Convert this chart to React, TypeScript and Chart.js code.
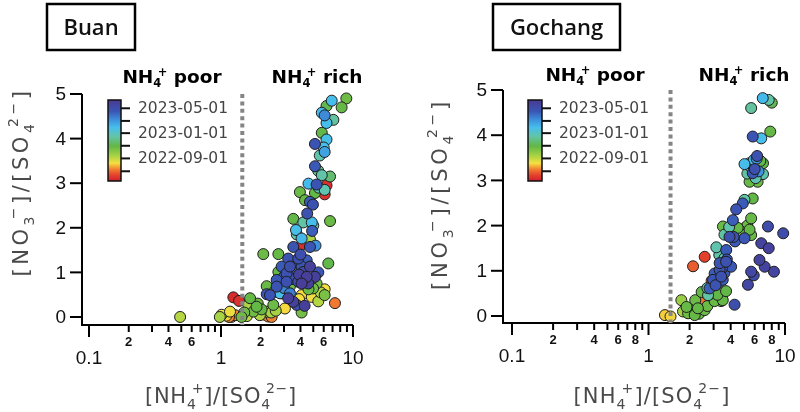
import React, { useEffect, useRef } from 'react';
import { Chart, registerables } from 'chart.js';

Chart.register(...registerables);

// ---------------- data ----------------
const colorbarRange = ['2022-05-15', '2023-06-10'];
const colorbarTickDates = ['2022-07-01', '2022-09-01', '2022-11-01', '2023-01-01', '2023-03-01', '2023-05-01'];
const colorbarLabelDates = ['2022-09-01', '2023-01-01', '2023-05-01'];
const yTickValues = [0, 1, 2, 3, 4, 5];
const xMajorTicks = [0.1, 1, 10];
const xMajorLabels = ['0.1', '1', '10'];
const xMinorTicks = [0.2, 0.3, 0.4, 0.5, 0.6, 0.7, 0.8, 0.9, 2, 3, 4, 5, 6, 7, 8, 9];
const buanMinorLabels = [0.2, 0.4, 0.6, 2, 4, 6];
const gochangMinorLabels = [0.2, 0.4, 0.6, 0.8, 2, 4, 6, 8];
const nh4Threshold = 1.45;

// Buan: [NH4+]/[SO4 2-] , [NO3-]/[SO4 2-] , sampling date
const buanNH4 = [
  8.9, 6.9, 8.2, 6.3, 5.8, 6.1, 7.1, 5.8, 6.3, 5.15, 6.0, 6.1, 5.6, 5.15, 5.45, 6.7, 5.8, 4.6, 5.3, 6.3,
  6.1, 6.1, 3.96, 5.15, 4.33, 4.72, 4.97, 4.5, 6.7, 3.53, 4.2, 4.87, 3.7, 4.9, 3.75, 4.08, 4.72, 4.08, 4.72, 3.53,
  2.09, 2.72, 3.23, 3.85, 4.46, 6.5, 2.88, 3.33, 4.08, 4.72, 2.72, 3.14, 3.63, 4.2, 5.46, 4.46, 5.15, 2.64, 3.14, 3.85,
  4.08, 4.58, 2.22, 2.64, 3.33, 5.3, 6.1, 4.98, 2.22, 2.88, 3.33, 4.08, 4.87, 6.1, 5.46, 7.3, 3.23, 3.53, 3.75, 3.05,
  4.08, 2.49, 2.03, 1.24, 1.37, 1.66, 1.86, 1.61, 1.76, 2.22, 2.28, 1.97, 1.01, 0.98, 1.1, 1.2, 1.28, 1.43, 1.17, 1.57,
  0.49, 2.35, 2.8, 2.42, 1.15, 2.4, 3.0, 3.45, 3.9, 4.3, 3.6, 4.0, 3.0, 2.5, 4.6, 5.7, 4.3, 3.9, 2.6, 1.9,
  1.5, 2.15, 5.2, 5.0, 5.5, 6.3,
];
const buanNO3 = [
  4.9, 4.85, 4.7, 4.73, 4.58, 4.52, 4.42, 4.13, 3.98, 3.88, 3.8, 3.7, 3.62, 3.38, 3.28, 3.15, 3.18, 2.99, 2.97, 2.95,
  2.85, 2.75, 2.8, 2.78, 2.62, 2.58, 2.52, 2.32, 2.15, 2.2, 2.12, 2.12, 1.95, 1.93, 1.85, 1.76, 1.74, 1.62, 1.57, 1.57,
  1.41, 1.41, 1.31, 1.31, 1.27, 1.2, 1.13, 1.13, 1.13, 1.13, 1.01, 0.98, 0.99, 1.01, 1.0, 0.9, 0.9, 0.83, 0.79, 0.79,
  0.75, 0.75, 0.69, 0.68, 0.69, 0.75, 0.62, 0.64, 0.51, 0.53, 0.53, 0.49, 0.45, 0.49, 0.35, 0.31, 0.42, 0.34, 0.27, 0.19,
  0.1, 0.27, 0.17, 0.44, 0.36, 0.42, 0.23, 0.27, 0.12, 0.12, 0.01, 0.04, 0.05, 0.0, 0.03, 0.0, 0.04, 0.0, 0.12, 0.02,
  0.0, 0.49, 0.53, 0.0, 0.0, 0.1, 0.9, 0.85, 0.95, 0.8, 1.2, 1.4, 0.65, 0.55, 0.62, 0.55, 0.25, 0.4, 0.14, 0.3,
  0.1, 0.05, 1.6, 2.05, 2.9, 4.35,
];
const buanDates = [
  '2022-10-22', '2023-01-30', '2022-10-28', '2022-11-05', '2023-02-02', '2023-03-10', '2022-12-14', '2022-10-30', '2023-01-25', '2023-04-18',
  '2023-01-27', '2023-02-20', '2022-12-20', '2023-04-14', '2022-12-12', '2022-11-20', '2022-12-18', '2023-01-31', '2023-04-20', '2022-05-28',
  '2022-12-22', '2022-05-30', '2022-10-24', '2022-10-29', '2022-10-27', '2023-04-12', '2023-04-22', '2023-04-25', '2022-10-25', '2022-10-31',
  '2022-12-15', '2023-01-29', '2023-01-26', '2023-04-10', '2022-12-19', '2023-02-03', '2022-09-12', '2022-05-29', '2023-04-15', '2023-04-19',
  '2022-10-23', '2022-10-27', '2023-04-21', '2023-04-26', '2023-04-11', '2022-11-01', '2023-04-13', '2023-04-28', '2023-04-17', '2023-05-27',
  '2022-10-30', '2023-04-23', '2023-04-09', '2023-05-05', '2023-04-16', '2023-05-30', '2023-05-26', '2023-04-14', '2023-04-24', '2023-05-02',
  '2023-05-31', '2023-05-28', '2022-10-26', '2023-04-18', '2022-10-21', '2022-10-19', '2022-08-10', '2022-10-20', '2023-04-15', '2022-12-17',
  '2023-03-20', '2022-08-08', '2022-08-12', '2022-10-15', '2022-09-08', '2022-07-08', '2023-05-29', '2023-05-25', '2023-04-27', '2022-08-07',
  '2022-10-18', '2022-10-24', '2022-10-28', '2022-05-26', '2022-05-31', '2022-10-27', '2022-10-29', '2022-09-10', '2022-10-21', '2022-09-06',
  '2022-07-10', '2022-09-11', '2022-08-11', '2022-09-14', '2022-08-06', '2022-07-06', '2022-07-12', '2022-10-22', '2022-08-14', '2022-09-05',
  '2022-09-07', '2023-04-20', '2023-01-24', '2022-07-11', '2022-07-14', '2022-09-13', '2023-04-12', '2023-04-19', '2023-05-24', '2023-04-22',
  '2023-04-08', '2023-04-27', '2023-03-12', '2022-10-26', '2022-10-23', '2022-09-09', '2023-05-28', '2022-08-09', '2022-09-16', '2022-10-25',
  '2022-10-21', '2022-07-07', '2023-03-04', '2022-12-16', '2022-12-21', '2023-01-28',
];

// Gochang
const gochangNH4 = [
  6.87, 7.6, 8.0, 5.65, 5.8, 6.7, 7.8, 6.25, 5.05, 5.5, 6.9, 6.6, 5.8, 6.9, 5.3, 6.0, 5.5, 6.3, 6.1, 5.05,
  5.8, 4.9, 4.39, 4.15, 5.65, 3.51, 3.9, 5.5, 5.1, 4.7, 5.05, 3.92, 3.6, 7.5, 9.7, 6.7, 7.6, 3.14, 3.71, 2.58,
  2.12, 3.6, 3.32, 4.03, 6.5, 7.1, 8.3, 5.65, 5.9, 5.35, 4.27, 3.32, 3.05, 2.97, 3.41, 3.22, 2.8, 2.58, 2.73, 3.2,
  3.4, 3.05, 2.44, 1.74, 2.06, 2.3, 2.58, 1.95, 1.79, 2.18, 1.32, 1.45, 3.5, 2.45, 4.77, 5.65, 6.2, 2.9, 3.7, 4.2,
  3.45, 3.6, 3.25, 3.1, 3.5, 3.75, 3.3, 2.7, 2.9, 3.7, 2.2, 2.35, 1.9, 2.7, 4.5, 5.3, 4.3, 5.6, 6.4, 5.9,
];
const gochangNO3 = [
  4.82, 4.78, 4.72, 4.6, 3.97, 3.93, 4.08, 3.54, 3.36, 3.38, 3.38, 3.43, 3.16, 3.14, 3.15, 3.25, 2.97, 2.97, 3.05, 2.57,
  2.6, 2.49, 2.36, 2.12, 2.16, 1.98, 1.97, 1.91, 1.95, 1.88, 1.72, 1.75, 1.8, 1.98, 1.83, 1.61, 1.5, 1.52, 1.46, 1.31,
  1.1, 1.28, 1.17, 1.09, 1.24, 1.09, 0.98, 0.98, 0.9, 0.69, 0.25, 1.02, 0.94, 0.8, 0.87, 0.72, 0.61, 0.54, 0.46, 0.47,
  0.33, 0.33, 0.32, 0.35, 0.13, 0.17, 0.13, 0.06, 0.1, 0.02, 0.02, -0.01, 0.35, 0.53, 1.81, 1.79, 3.48, 0.78, 1.2, 1.75,
  1.05, 0.95, 0.9, 0.68, 0.8, 1.25, 1.35, 0.62, 0.5, 0.55, 0.35, 0.05, 0.2, 0.22, 1.95, 2.0, 1.65, 3.3, 3.2, 3.45,
];
const gochangDates = [
  '2023-02-01', '2022-12-18', '2022-11-05', '2022-12-12', '2023-04-18', '2023-01-27', '2022-10-28', '2023-04-22', '2023-01-30', '2023-01-25',
  '2022-10-30', '2022-11-02', '2023-04-14', '2022-12-20', '2022-12-15', '2023-04-26', '2022-10-26', '2022-10-22', '2022-12-22', '2022-12-17',
  '2022-10-31', '2023-04-12', '2023-04-20', '2023-04-10', '2022-10-27', '2022-10-24', '2022-12-19', '2022-10-29', '2022-10-20', '2022-10-25',
  '2023-04-16', '2023-04-24', '2022-12-14', '2023-05-05', '2023-05-02', '2023-05-22', '2023-05-26', '2022-12-21', '2023-04-13', '2022-06-12',
  '2022-06-25', '2022-12-23', '2023-04-21', '2023-04-15', '2023-05-24', '2023-05-20', '2023-05-18', '2023-05-12', '2023-05-08', '2023-05-15',
  '2023-05-01', '2023-04-19', '2023-04-11', '2023-04-17', '2023-04-23', '2023-03-10', '2023-04-09', '2022-10-23', '2022-12-16', '2022-10-30',
  '2022-10-21', '2022-10-26', '2022-07-05', '2022-09-25', '2022-10-19', '2022-10-28', '2022-10-24', '2022-10-22', '2022-09-15', '2022-10-27',
  '2022-08-03', '2022-08-06', '2022-10-29', '2022-10-31', '2022-10-28', '2022-10-25', '2023-03-05', '2022-07-01', '2023-04-25', '2023-04-20',
  '2023-04-18', '2023-04-14', '2023-03-08', '2023-04-21', '2023-04-11', '2023-04-16', '2022-12-18', '2022-12-20', '2022-10-27', '2022-10-30',
  '2022-10-24', '2022-10-21', '2022-10-26', '2022-10-25', '2022-10-29', '2022-10-23', '2023-04-13', '2022-12-15', '2023-03-02', '2023-01-29',
];

// ---------------- styles ----------------
const colormapStops: [number, string][] = [
  [0.0, '#cf1f2e'], [0.07, '#e4402c'], [0.14, '#f07a30'], [0.22, '#f6df40'],
  [0.31, '#a8d444'], [0.43, '#62b746'], [0.55, '#62c4a6'], [0.66, '#46bfec'],
  [0.76, '#3d8ddb'], [0.86, '#3a55b4'], [1.0, '#4a3a93'],
];
const SANS = '"Liberation Sans", Arial, sans-serif';
const DEJAVU = '"DejaVu Sans", sans-serif';

const hexRgb = (h: string) => [1, 3, 5].map((i) => parseInt(h.slice(i, i + 2), 16));
const t0 = Date.parse(colorbarRange[0]);
const t1 = Date.parse(colorbarRange[1]);
const dateFrac = (d: string) => Math.min(1, Math.max(0, (Date.parse(d) - t0) / (t1 - t0)));
function colorAt(t: number) {
  for (let i = 1; i < colormapStops.length; i++) {
    const [ta, ca] = colormapStops[i - 1];
    const [tb, cb] = colormapStops[i];
    if (t <= tb) {
      const f = (t - ta) / (tb - ta);
      const a = hexRgb(ca), b = hexRgb(cb);
      const c = a.map((v, k) => Math.round(v + (b[k] - v) * f));
      return `rgb(${c[0]},${c[1]},${c[2]})`;
    }
  }
  return colormapStops[colormapStops.length - 1][1];
}

type Seg = [string, 'n' | 'b' | 'p'];
type RichFont = { family: string; weight: string; size: number; small: number; subDy: number; supDy: number; stack: number };

function layoutRich(ctx: CanvasRenderingContext2D, segs: Seg[], f: RichFont, ls: number) {
  let x = 0;
  const items: { t: string; sx: number; dy: number; font: string }[] = [];
  let prevSub: { x: number; w: number } | null = null;
  for (const [t, k] of segs) {
    const fs = k === 'n' ? f.size : f.small;
    const font = `${f.weight} ${fs}px ${f.family}`;
    ctx.font = font;
    (ctx as any).letterSpacing = `${ls}px`;
    const w = ctx.measureText(t).width;
    let sx: number;
    if (k === 'p' && prevSub) {
      sx = prevSub.x + prevSub.w * f.stack;
      x = Math.max(prevSub.x + prevSub.w, sx + w);
    } else {
      sx = x;
      x += w;
    }
    items.push({ t, sx, dy: k === 'b' ? f.subDy : k === 'p' ? f.supDy : 0, font });
    prevSub = k === 'b' ? { x: sx, w } : null;
  }
  return { items, width: x, ls };
}

function drawRich(ctx: CanvasRenderingContext2D, segs: Seg[], f: RichFont, cx: number, baseY: number, targetW?: number) {
  let ls = 0;
  if (targetW) {
    const w0 = layoutRich(ctx, segs, f, 0).width;
    const w1 = layoutRich(ctx, segs, f, 1).width;
    ls = Math.max(0, (targetW - w0) / Math.max(0.001, w1 - w0));
  }
  const lay = layoutRich(ctx, segs, f, ls);
  const x0 = cx - lay.width / 2;
  ctx.textAlign = 'left';
  ctx.textBaseline = 'alphabetic';
  for (const it of lay.items) {
    ctx.font = it.font;
    (ctx as any).letterSpacing = `${ls}px`;
    ctx.fillText(it.t, x0 + it.sx, baseY + it.dy);
  }
  (ctx as any).letterSpacing = '0px';
}

const xTitleSegs: Seg[] = [['[NH', 'n'], ['4', 'b'], ['+', 'p'], [']/[SO', 'n'], ['4', 'b'], ['2\u2212', 'p'], [']', 'n']];
const yTitleSegs: Seg[] = [['[NO', 'n'], ['3', 'b'], ['\u2212', 'p'], [']/[SO', 'n'], ['4', 'b'], ['2\u2212', 'p'], [']', 'n']];
const poorSegs: Seg[] = [['NH', 'n'], ['4', 'b'], ['+', 'p'], [' poor', 'n']];
const richSegs: Seg[] = [['NH', 'n'], ['4', 'b'], ['+', 'p'], [' rich', 'n']];
const titleFont: RichFont = { family: DEJAVU, weight: '400', size: 21, small: 14, subDy: 6, supDy: -10, stack: 0.5 };
const regimeFont: RichFont = { family: DEJAVU, weight: 'bold', size: 18.5, small: 11.5, subDy: 4, supDy: -7, stack: 0.55 };

type PanelSpec = {
  site: string;
  nh4: number[];
  no3: number[];
  dates: string[];
  minorLabels: number[];
  padding: { left: number; right: number; top: number; bottom: number };
  xMin: number; xMax: number; yMin: number; yMax: number;
  box: { x: number; y: number; w: number; h: number; textY: number };
  regime: { y: number; poorX: number; richX: number };
  colorbar: { x: number; y: number; w: number; h: number };
  yTitle: { x: number; y: number; len: number };
  xTitle: { x: number; y: number; len: number };
};

const buanSpec: PanelSpec = {
  site: 'Buan', nh4: buanNH4, no3: buanNO3, dates: buanDates, minorLabels: buanMinorLabels,
  padding: { left: 82, right: 47, top: 94, bottom: 87 },
  xMin: 0.0885, xMax: 10, yMin: -0.18, yMax: 5,
  box: { x: 47, y: 4, w: 88, h: 46, textY: 35 },
  regime: { y: 83, poorX: 172, richX: 317 },
  colorbar: { x: 108, y: 100, w: 13, h: 81 },
  yTitle: { x: 28, y: 182, len: 189 },
  xTitle: { x: 221, y: 403, len: 152 },
};

const gochangSpec: PanelSpec = {
  site: 'Gochang', nh4: gochangNH4, no3: gochangNO3, dates: gochangDates, minorLabels: gochangMinorLabels,
  padding: { left: 103, right: 15, top: 90, bottom: 89 },
  xMin: 0.0859, xMax: 10, yMin: -0.155, yMax: 5,
  box: { x: 93, y: 4, w: 127, h: 46, textY: 35 },
  regime: { y: 81, poorX: 195, richX: 344 },
  colorbar: { x: 128, y: 100, w: 14, h: 81 },
  yTitle: { x: 47, y: 194, len: 192 },
  xTitle: { x: 252, y: 403, len: 157 },
};

function makeDecor(spec: PanelSpec) {
  return {
    id: 'decor' + spec.site,
    beforeDatasetsDraw(chart: any) {
      const ctx: CanvasRenderingContext2D = chart.ctx;
      const { left, right, top, bottom } = chart.chartArea;
      const xs = chart.scales.x;
      const ys = chart.scales.y;
      ctx.save();
      ctx.strokeStyle = '#000';
      ctx.lineWidth = 2;
      ctx.lineJoin = 'miter';
      ctx.beginPath();
      ctx.moveTo(left, top);
      ctx.lineTo(left, bottom);
      ctx.lineTo(right, bottom);
      ctx.stroke();
      // y ticks
      ctx.fillStyle = '#111';
      ctx.font = `19px ${SANS}`;
      ctx.textAlign = 'right';
      ctx.textBaseline = 'middle';
      for (const v of yTickValues) {
        const py = ys.getPixelForValue(v);
        ctx.beginPath();
        ctx.moveTo(left - 12, py);
        ctx.lineTo(left, py);
        ctx.stroke();
        ctx.fillText(String(v), left - 16, py + 1);
      }
      // x ticks
      ctx.textAlign = 'center';
      xMajorTicks.forEach((v, i) => {
        const px = xs.getPixelForValue(v);
        ctx.beginPath();
        ctx.moveTo(px, bottom);
        ctx.lineTo(px, bottom + 12);
        ctx.stroke();
        ctx.font = `19px ${SANS}`;
        ctx.fillText(xMajorLabels[i], px, bottom + 34);
      });
      for (const v of xMinorTicks) {
        const px = xs.getPixelForValue(v);
        ctx.beginPath();
        ctx.moveTo(px, bottom);
        ctx.lineTo(px, bottom + 7);
        ctx.stroke();
        if (spec.minorLabels.includes(v)) {
          ctx.font = `bold 13px ${SANS}`;
          ctx.fillText(String(v >= 1 ? v : Math.round(v * 10)), px, bottom + 17);
        }
      }
      // axis titles
      ctx.fillStyle = '#4a4a4a';
      drawRich(ctx, xTitleSegs, titleFont, spec.xTitle.x, spec.xTitle.y, spec.xTitle.len);
      ctx.save();
      ctx.translate(spec.yTitle.x, spec.yTitle.y);
      ctx.rotate(-Math.PI / 2);
      drawRich(ctx, yTitleSegs, titleFont, 0, 0, spec.yTitle.len);
      ctx.restore();
      ctx.restore();
    },
    afterDatasetsDraw(chart: any) {
      const ctx: CanvasRenderingContext2D = chart.ctx;
      ctx.save();
      // site box
      const b = spec.box;
      ctx.strokeStyle = '#000';
      ctx.lineWidth = 2.5;
      ctx.strokeRect(b.x, b.y, b.w, b.h);
      ctx.fillStyle = '#111';
      ctx.font = `600 22px "Open Sans", ${SANS}`;
      ctx.textAlign = 'center';
      ctx.textBaseline = 'alphabetic';
      ctx.fillText(spec.site, b.x + b.w / 2, b.textY);
      // regime labels
      ctx.fillStyle = '#000';
      drawRich(ctx, poorSegs, regimeFont, spec.regime.poorX, spec.regime.y);
      drawRich(ctx, richSegs, regimeFont, spec.regime.richX, spec.regime.y);
      // colour bar
      const cb = spec.colorbar;
      const g = ctx.createLinearGradient(0, cb.y + cb.h, 0, cb.y);
      for (const [t, c] of colormapStops) g.addColorStop(t, c);
      ctx.fillStyle = g;
      ctx.fillRect(cb.x, cb.y, cb.w, cb.h);
      ctx.lineWidth = 1.5;
      ctx.strokeStyle = '#111';
      ctx.strokeRect(cb.x, cb.y, cb.w, cb.h);
      ctx.lineWidth = 2;
      ctx.font = `15.5px ${DEJAVU}`;
      ctx.fillStyle = '#444';
      ctx.textAlign = 'left';
      ctx.textBaseline = 'middle';
      for (const d of colorbarTickDates) {
        const py = cb.y + (1 - dateFrac(d)) * cb.h;
        ctx.beginPath();
        ctx.moveTo(cb.x + cb.w, py);
        ctx.lineTo(cb.x + cb.w + 9, py);
        ctx.stroke();
        if (colorbarLabelDates.includes(d)) ctx.fillText(d, cb.x + cb.w + 17, py + 1);
      }
      ctx.restore();
    },
  };
}

function Panel({ spec, left }: { spec: PanelSpec; left: number }) {
  const ref = useRef<HTMLCanvasElement>(null);
  useEffect(() => {
    const canvas = ref.current;
    if (!canvas) return;
    const order = spec.nh4.map((_, i) => i).sort((a, b) => Date.parse(spec.dates[a]) - Date.parse(spec.dates[b]));
    const pts = order.map((i) => ({ x: spec.nh4[i], y: spec.no3[i] }));
    const cols = order.map((i) => colorAt(dateFrac(spec.dates[i])));
    const chart = new Chart(canvas, {
      type: 'scatter',
      data: {
        datasets: [
          {
            data: pts,
            pointRadius: 5.5,
            pointHoverRadius: 5.5,
            pointBorderWidth: 1,
            pointBorderColor: '#1e1e1e',
            pointBackgroundColor: cols,
            clip: false,
            order: 2,
          } as any,
          {
            data: [
              { x: nh4Threshold, y: spec.yMax },
              { x: nh4Threshold, y: spec.yMin },
            ],
            showLine: true,
            borderColor: '#858585',
            borderWidth: 4,
            borderDash: [4, 3.4],
            borderCapStyle: 'butt',
            pointRadius: 0,
            clip: false,
            order: 1,
          } as any,
        ],
      },
      options: {
        responsive: false,
        animation: false,
        devicePixelRatio: 1,
        events: [],
        layout: { padding: spec.padding },
        plugins: { legend: { display: false }, tooltip: { enabled: false } },
        scales: {
          x: { type: 'logarithmic', min: spec.xMin, max: spec.xMax, bounds: 'data', display: false },
          y: { type: 'linear', min: spec.yMin, max: spec.yMax, display: false },
        },
      } as any,
      plugins: [makeDecor(spec)],
    });
    return () => chart.destroy();
  }, [spec]);
  return (
    <canvas
      ref={ref}
      width={400}
      height={412}
      style={{ position: 'absolute', left, top: 0, width: 400, height: 412 }}
    />
  );
}

export default function App() {
  return (
    <div style={{ position: 'absolute', left: 0, top: 0, width: 800, height: 412, background: '#fff', overflow: 'hidden' }}>
      <Panel spec={buanSpec} left={0} />
      <Panel spec={gochangSpec} left={400} />
    </div>
  );
}
